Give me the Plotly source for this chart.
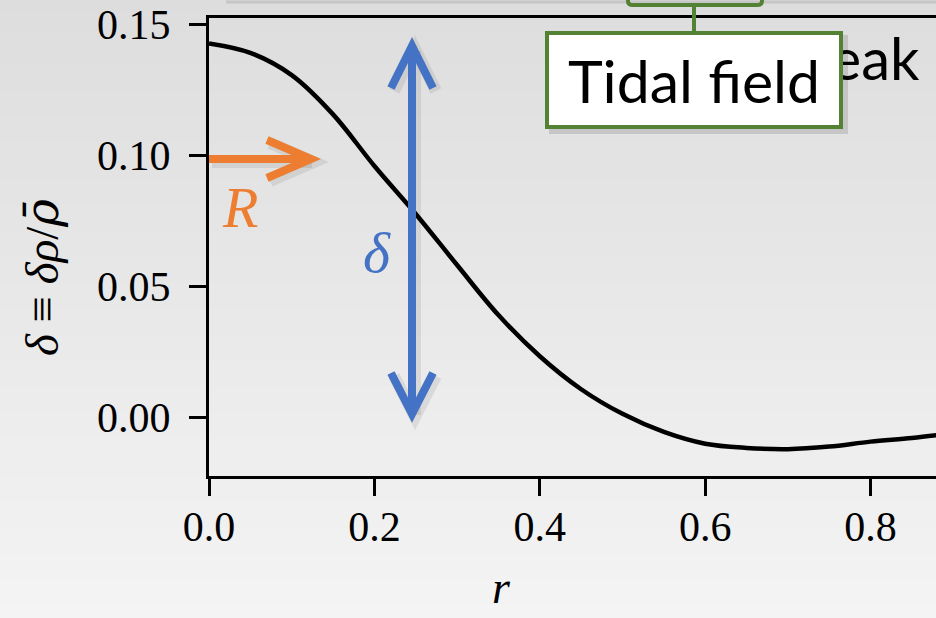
import plotly.graph_objects as go

# ---- data ----
r_vals = [0.00, 0.05, 0.10, 0.15, 0.20, 0.25, 0.30, 0.35, 0.40, 0.45,
          0.50, 0.55, 0.60, 0.65, 0.70, 0.75, 0.80, 0.85, 0.90]
delta_vals = [0.1426, 0.1390, 0.1305, 0.1155, 0.0958, 0.0775, 0.0580, 0.0389,
              0.0232, 0.0106, 0.0012, -0.0057, -0.0102, -0.0118, -0.0123,
              -0.0113, -0.0094, -0.0080, -0.0062]
x_ticks = [0.0, 0.2, 0.4, 0.6, 0.8]
x_ticklabels = ["0.0", "0.2", "0.4", "0.6", "0.8"]
y_ticks = [0.00, 0.05, 0.10, 0.15]
y_ticklabels = ["0.00", "0.05", "0.10", "0.15"]

W, H = 936, 618
L, R_, T, B = 209, 0, 18, 142
PW, PH = W - L - R_, H - T - B


def px(x):
    return (x - L) / PW


def py(y):
    return (H - B - y) / PH


ORANGE = "#ED7D31"
BLUE = "#4472C4"
GREEN = "#548235"
SERIF = "Liberation Serif"
SANS = "Lato"

fig = go.Figure()
fig.add_trace(go.Scatter(x=r_vals, y=delta_vals, mode="lines",
                         line=dict(color="black", width=4.5, shape="spline", smoothing=1.0),
                         hoverinfo="skip", showlegend=False))

shapes = []
# background gradient
n = 48
for i in range(n):
    y0 = i * H / n
    y1 = (i + 1) * H / n + 1
    c = int(round(221 + (244 - 221) * (i + 0.5) / n))
    shapes.append(dict(type="rect", xref="paper", yref="paper",
                       x0=px(0), x1=px(W), y0=py(y0), y1=py(y1),
                       fillcolor=f"rgb({c},{c},{c})", line=dict(width=0), layer="below"))

# faint shadow line at top (shape above the chart on the slide)
shapes.append(dict(type="line", xref="paper", yref="paper", x0=px(226), x1=px(W),
                   y0=py(2), y1=py(2), line=dict(color="rgba(0,0,0,0.10)", width=3), layer="below"))


def path(points):
    s = "M" + " L".join(f"{px(a):.5f},{py(b):.5f}" for a, b in points)
    return s


def arrow_paths(segs, color, width, shadow=True):
    out = []
    if shadow:
        for seg in segs:
            out.append(dict(type="path", xref="paper", yref="paper",
                            path=path([(a + 3, b + 3) for a, b in seg]),
                            line=dict(color="rgba(0,0,0,0.08)", width=width + 4), layer="above"))
    for seg in segs:
        out.append(dict(type="path", xref="paper", yref="paper", path=path(seg),
                        line=dict(color=color, width=width), layer="above"))
    return out


# orange R arrow
shapes += arrow_paths([[(209, 159), (309, 159)],
                       [(267, 140), (311, 159), (267, 178)]], ORANGE, 8)
# blue delta double arrow
shapes += arrow_paths([[(412, 48), (412, 412)],
                       [(391, 88), (412, 46), (433, 88)],
                       [(391, 373), (412, 414), (433, 373)]], BLUE, 8)

# green callout pieces above the box
shapes.append(dict(type="path", xref="paper", yref="paper",
                   path=(f"M{px(628):.5f},{py(-12):.5f} L{px(628):.5f},{py(1):.5f} "
                         f"Q{px(628):.5f},{py(5):.5f} {px(633):.5f},{py(5):.5f} "
                         f"L{px(757):.5f},{py(5):.5f} Q{px(762):.5f},{py(5):.5f} {px(762):.5f},{py(1):.5f} "
                         f"L{px(762):.5f},{py(-12):.5f}"),
                   line=dict(color=GREEN, width=4), layer="above"))
shapes.append(dict(type="line", xref="paper", yref="paper", x0=px(694), x1=px(694),
                   y0=py(5), y1=py(31), line=dict(color=GREEN, width=4), layer="above"))
# box shadow
shapes.append(dict(type="rect", xref="paper", yref="paper", x0=px(549), x1=px(848),
                   y0=py(35), y1=py(134), fillcolor="rgba(0,0,0,0.12)",
                   line=dict(width=0), layer="above"))

annotations = [
    dict(text="peak", xref="paper", yref="paper", x=px(922), y=py(57),
         xanchor="right", yanchor="middle", showarrow=False,
         font=dict(family=SANS, size=58, color="black")),
    dict(text="Tidal field", xref="paper", yref="paper", x=px(694), y=py(80),
         xanchor="center", yanchor="middle", showarrow=False,
         width=290, height=90, borderpad=0, borderwidth=4,
         bgcolor="white", bordercolor=GREEN,
         font=dict(family=SANS, size=59, color="black")),
    dict(text="<i>R</i>", xref="paper", yref="paper", x=px(240), y=py(208),
         xanchor="center", yanchor="middle", showarrow=False,
         font=dict(family=SERIF, size=58, color=ORANGE)),
    dict(text="<i>δ</i>", xref="paper", yref="paper", x=px(377), y=py(252),
         xanchor="center", yanchor="middle", showarrow=False,
         font=dict(family=SERIF, size=58, color=BLUE)),
    dict(text=("<i>δ</i> ≡ <i>δρ</i>/"
               "<span style='font-family:DejaVu Serif'><i>ρ̄</i></span>"),
         xref="paper", yref="paper",
         x=px(41), y=py(278), xanchor="center", yanchor="middle", textangle=-90,
         showarrow=False, font=dict(family=SERIF, size=47, color="black")),
    dict(text="<i>r</i>", xref="paper", yref="paper", x=px(501), y=py(587),
         xanchor="center", yanchor="middle", showarrow=False,
         font=dict(family=SERIF, size=46, color="black")),
]

fig.update_layout(
    width=W, height=H,
    margin=dict(l=L, r=R_, t=T, b=B, pad=0),
    paper_bgcolor="#e8e8e8",
    plot_bgcolor="rgba(0,0,0,0)",
    shapes=shapes,
    annotations=annotations,
    showlegend=False,
)
fig.update_xaxes(range=[0, PW / 827.0], tickvals=x_ticks, ticktext=x_ticklabels,
                 showgrid=False, zeroline=False, showline=True, linecolor="black",
                 linewidth=3, mirror=True, ticks="outside", ticklen=17, tickwidth=3,
                 tickcolor="black", ticklabelstandoff=-5,
                 tickfont=dict(family=SERIF, size=42, color="black"))
fig.update_yaxes(range=[(417 - (H - B)) / 2620.0, (417 - T) / 2620.0],
                 tickvals=y_ticks, ticktext=y_ticklabels,
                 showgrid=False, zeroline=False, showline=True, linecolor="black",
                 linewidth=3, mirror=False, ticks="outside", ticklen=17, tickwidth=3,
                 tickcolor="black", ticklabelstandoff=10,
                 tickfont=dict(family=SERIF, size=42, color="black"))

fig.write_html("out.html", config={"displayModeBar": False},
               post_script="document.body.style.margin='0';document.body.style.overflow='hidden';")
